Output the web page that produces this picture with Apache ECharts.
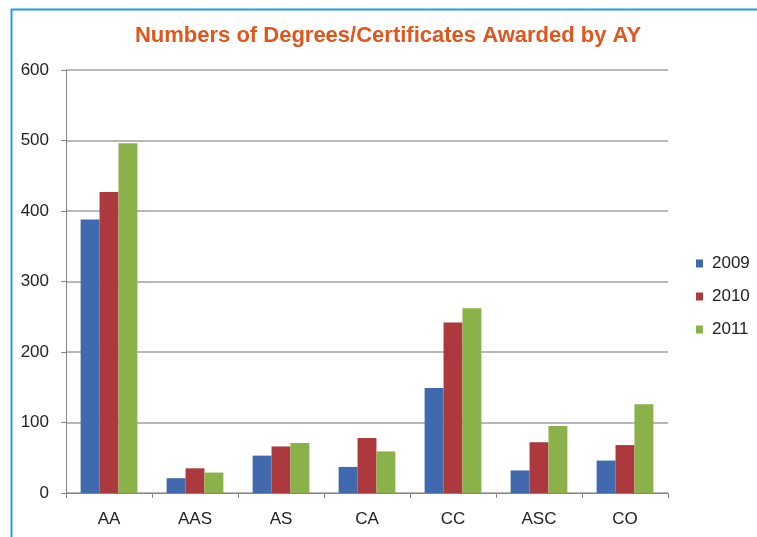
<!DOCTYPE html>
<html>
<head>
<meta charset="utf-8">
<script src="https://cdn.jsdelivr.net/npm/echarts@6/dist/echarts.min.js"></script>
<style>
  html, body { margin: 0; padding: 0; background: #ffffff; }
  #chart { width: 757px; height: 537px; }
</style>
</head>
<body>
<div id="chart"></div>
<script>
// Award types along the x axis
const categories = ['AA', 'AAS', 'AS', 'CA', 'CC', 'ASC', 'CO'];

// Counts per academic year
const years = ['2009', '2010', '2011'];
const values2009 = [388, 21, 53, 37, 149, 32, 46];
const values2010 = [427, 35, 66, 78, 242, 72, 68];
const values2011 = [496, 29, 71, 59, 262, 95, 126];

// Y axis scale
const yMin = 0;
const yMax = 600;
const yStep = 100;

const seriesValues = [values2009, values2010, values2011];
const seriesColors = ['#4169ad', '#ac393d', '#8bb14a'];

const chart = echarts.init(document.getElementById('chart'), null, { renderer: 'canvas' });

const font = '"Liberation Sans", Arial, sans-serif';

chart.setOption({
  backgroundColor: '#ffffff',
  animation: false,
  graphic: [
    {
      type: 'rect',
      left: 9,
      top: 7,
      shape: { width: 760, height: 540 },
      style: { fill: 'none', stroke: '#239de9', lineWidth: 2 },
      z: 100
    }
  ],
  title: {
    text: 'Numbers of Degrees/Certificates Awarded by AY',
    left: 383,
    textAlign: 'center',
    top: 20,
    textStyle: {
      color: '#e0561c',
      fontFamily: font,
      fontWeight: 'bold',
      fontSize: 22
    }
  },
  legend: {
    orient: 'vertical',
    left: 691,
    top: 250,
    itemGap: 16,
    itemWidth: 7,
    itemHeight: 8,
    icon: 'rect',
    textStyle: { fontFamily: font, fontSize: 17, color: '#222222', padding: [0, 0, 0, 4] },
    data: years
  },
  grid: {
    left: 66,
    right: 89,
    top: 70,
    bottom: 44,
    containLabel: false
  },
  xAxis: {
    type: 'category',
    data: categories,
    axisLine: { lineStyle: { color: '#868686', width: 1 } },
    axisTick: { show: true, length: 5, alignWithLabel: false, lineStyle: { color: '#868686' } },
    axisLabel: { fontFamily: font, fontSize: 17, color: '#222222', margin: 18 }
  },
  yAxis: {
    type: 'value',
    min: yMin,
    max: yMax,
    interval: yStep,
    axisLine: { show: true, lineStyle: { color: '#868686', width: 1 } },
    axisTick: { show: true, length: 5, lineStyle: { color: '#868686' } },
    axisLabel: { fontFamily: font, fontSize: 17, color: '#222222', margin: 17 },
    splitLine: { lineStyle: { color: '#a0a0a0', width: 1.5 } }
  },
  series: years.map((y, i) => ({
    name: y,
    type: 'bar',
    data: seriesValues[i],
    itemStyle: { color: seriesColors[i] },
    barGap: '0%',
    barCategoryGap: '34%'
  }))
});
</script>
</body>
</html>
